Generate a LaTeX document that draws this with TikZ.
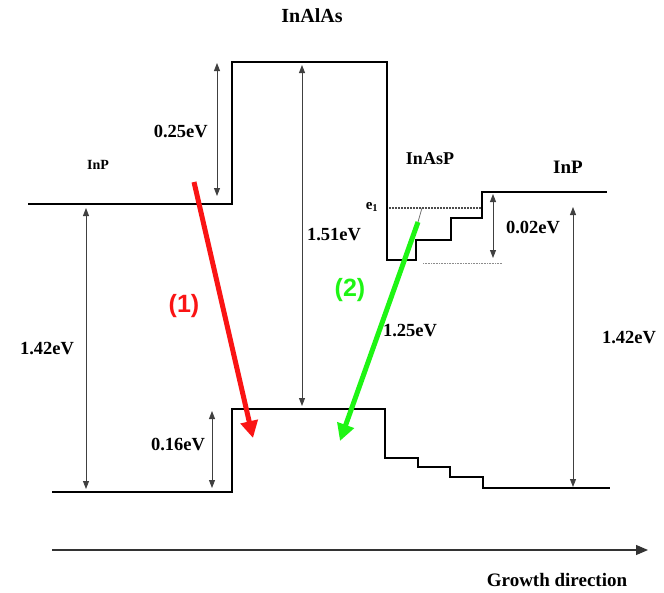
\documentclass[tikz,border=0pt]{standalone}
\usepackage{fontspec}
\setmainfont{Liberation Serif}
\newfontfamily\labsans{Liberation Sans}
\usetikzlibrary{arrows.meta}
\definecolor{brred}{RGB}{250,20,20}
\definecolor{brgreen}{RGB}{30,245,20}
\tikzset{
  band/.style={line width=2.3pt, black, line join=miter},
  dim/.style={line width=0.9pt, black!75, {Triangle[length=8pt,width=6pt]}-{Triangle[length=8pt,width=6pt]}},
  trans/.style={line width=5pt, -{Triangle[length=17pt,width=17pt]}},
  lab/.style={font=\bfseries\fontsize{18.5}{20}\selectfont, inner sep=0pt},
  mat/.style={font=\bfseries\fontsize{19}{21}\selectfont, inner sep=0pt},
  num/.style={font=\labsans\bfseries\fontsize{25}{28}\selectfont, inner sep=0pt},
  dotl/.style={line width=1.2pt, dash pattern=on 1.5pt off 1.5pt}
}
\begin{document}
\begin{tikzpicture}[x=1pt,y=-1pt]
\useasboundingbox (0,0) rectangle (664,592);
% conduction band
\draw[band] (28,204) -- (232,204) -- (232,62) -- (387,62) -- (387,260) -- (416,260)
  -- (416,240) -- (451,240) -- (451,218) -- (482,218) -- (482,192) -- (607,192);
% valence band
\draw[band] (52,492) -- (232,492) -- (232,409) -- (385,409) -- (385,458) -- (418,458)
  -- (418,467) -- (450,467) -- (450,477) -- (483,477) -- (483,488) -- (610,488);
% dotted levels
\draw[dotl, black!70] (389,208) -- (481,208);
\draw[line width=1pt, black!45, dash pattern=on 1pt off 0.6pt] (423,263) -- (502,263);
\node[font=\bfseries\fontsize{15}{17}\selectfont, inner sep=0pt] (e1) at (372,207) {e\textsubscript{1}};
% dimension arrows
\coordinate (a1t) at (217,63); \coordinate (a1b) at (217,196);
\draw[dim] (a1t) -- (a1b);
\node[lab, anchor=east] (l025) at (208,131) {0.25eV};
\coordinate (a2t) at (86,208); \coordinate (a2b) at (86,489);
\draw[dim] (a2t) -- (a2b);
\node[lab] (l142a) at (47,349) {1.42eV};
\coordinate (a3t) at (302,65); \coordinate (a3b) at (302,406);
\draw[dim] (a3t) -- (a3b);
\node[lab] (l151) at (334,235) {1.51eV};
\coordinate (a4t) at (212,411); \coordinate (a4b) at (212,488);
\draw[dim] (a4t) -- (a4b);
\node[lab] (l016) at (178,444) {0.16eV};
\coordinate (a5t) at (493,194); \coordinate (a5b) at (493,258);
\draw[dim] (a5t) -- (a5b);
\node[lab] (l002) at (533,227) {0.02eV};
\coordinate (a6t) at (573,207); \coordinate (a6b) at (573,487);
\draw[dim] (a6t) -- (a6b);
\node[lab] (l142b) at (629,338) {1.42eV};
\node[lab] (l125) at (410,331) {1.25eV};
% material labels
\node[mat, font=\bfseries\fontsize{20}{22}\selectfont] (inalas) at (312,16) {InAlAs};
\node[font=\bfseries\fontsize{14}{16}\selectfont, inner sep=0pt] (inpl) at (98,165) {InP};
\node[mat, font=\bfseries\fontsize{18}{20}\selectfont] (inasp) at (430,159) {InAsP};
\node[mat] (inpr) at (568,167) {InP};
% transitions
\coordinate (r0) at (194,182); \coordinate (r1) at (253,438);
\draw[trans, brred] (r0) -- (r1);
\node[num, text=brred] (n1) at (184,306) {(1)};
\coordinate (gs) at (422,208); \coordinate (g0) at (418,222); \coordinate (g1) at (340,441);
\draw[line width=0.7pt, black!60] (gs) -- (g0);
\draw[trans, brgreen] (g0) -- (g1);
\node[num, text=brgreen] (n2) at (350,290) {(2)};
% growth direction
\coordinate (gd0) at (52,550); \coordinate (gd1) at (648,550);
\draw[line width=1.2pt, black!80, -{Triangle[length=12pt,width=10pt]}] (gd0) -- (gd1);
\node[lab, font=\bfseries\fontsize{19}{21}\selectfont] (gdl) at (557,580) {Growth direction};
\end{tikzpicture}
\end{document}
